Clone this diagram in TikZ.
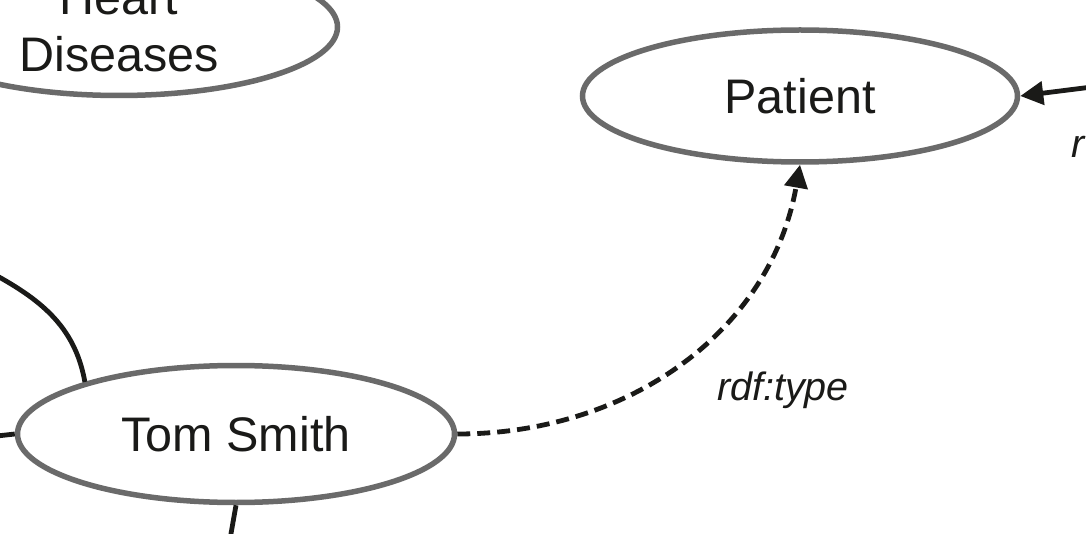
\documentclass[tikz,border=0pt]{standalone}
\usepackage{fontspec}
\setmainfont{Liberation Sans}
\usetikzlibrary{shapes.geometric,arrows.meta}
\definecolor{ink}{HTML}{1A1A18}
\definecolor{rim}{HTML}{6A6A6A}
\tikzset{
  concept/.style={ellipse, draw=rim, line width=5.5pt, fill=white, inner sep=0pt,
    text=ink, font=\fontsize{48.5}{57}\selectfont, align=center},
  link/.style={draw=ink, line width=4.8pt},
  typelink/.style={link, dash pattern=on 13pt off 7pt},
  tip/.style={-{Triangle[length=23pt,width=23pt]}},
  lbl/.style={text=ink, font=\fontsize{39.5}{45}\selectfont\itshape, inner sep=0pt}
}
\begin{document}
\begin{tikzpicture}[x=1pt,y=1pt]
\useasboundingbox (0,0) rectangle (1086,-534);
\fill[white] (0,0) rectangle (1086,-534);
\clip (0,0) rectangle (1086,-534);
% nodes
\node[concept, minimum width=437pt, minimum height=137pt] (heart) at (119,-27) {Heart\\Diseases};
\node[concept, minimum width=435pt, minimum height=132pt] (patient) at (800,-96) {Patient};
\node[concept, minimum width=437pt, minimum height=137pt] (tom) at (236,-434) {Tom Smith};
% free ends
\coordinate (tl) at (-12,-271);
\coordinate (lf) at (-12,-437);
\coordinate (bt) at (229,-545);
\coordinate (rt) at (1100,-86);
% connectors
\draw[link] (tl) to[out=-28, in=100] (tom.161);
\draw[link] (lf) -- (tom.west);
\draw[link] (tom.south) -- (bt);
\draw[typelink, tip] (tom.east) to[out=0, in=-100] (patient.south);
\draw[link, tip] (rt) -- (patient.east);
% labels
\node[lbl, anchor=base] (rdftype) at (783,-400) {rdf:type};
\node[lbl, anchor=base west] (rcut) at (1071,-158) {r};
\end{tikzpicture}
\end{document}
